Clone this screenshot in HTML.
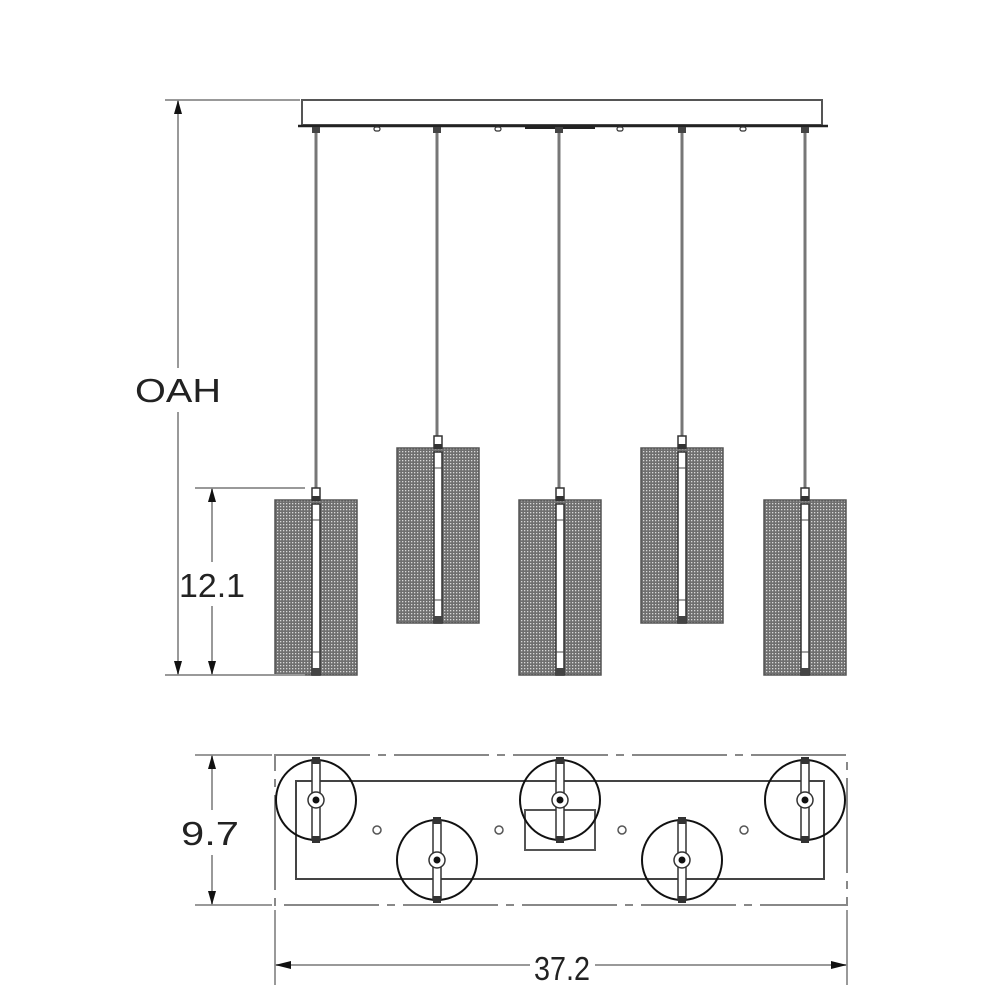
<!DOCTYPE html>
<html><head><meta charset="utf-8"><style>
html,body{margin:0;padding:0;background:#fff;width:1000px;height:1000px;overflow:hidden}
svg{display:block}
text{font-family:"Liberation Sans","DejaVu Sans",sans-serif;fill:#222}
</style></head><body>
<svg width="1000" height="1000" viewBox="0 0 1000 1000" xmlns="http://www.w3.org/2000/svg">
<defs>
<pattern id="mesh" width="3" height="3" patternUnits="userSpaceOnUse">
<rect width="3" height="3" fill="#6f6f6f"/>
<rect x="0" y="0" width="1.3" height="1.3" fill="#d8d8d8"/>
</pattern>
<g id="shade">
<rect x="-41" y="0" width="82" height="175" fill="url(#mesh)" stroke="#555" stroke-width="1.5"/>
<rect x="-4" y="4" width="8" height="171" fill="#fff" stroke="#333" stroke-width="1.5"/>
<line x1="-4" y1="20" x2="4" y2="20" stroke="#444"/>
<line x1="-4" y1="152" x2="4" y2="152" stroke="#444"/>
<rect x="-4" y="-12" width="8" height="12" fill="#fff" stroke="#333" stroke-width="1.5"/>
<rect x="-4" y="-4" width="8" height="5" fill="#333"/>
<rect x="-4" y="168" width="8" height="7" fill="#444"/>
</g>
<g id="plan">
<circle r="40" fill="none" stroke="#111" stroke-width="2"/>
<rect x="-4" y="-40" width="8" height="80" fill="#fff" stroke="#333" stroke-width="1.5"/>
<circle r="8" fill="#fff" stroke="#333" stroke-width="1.5"/>
<circle r="3.5" fill="#111"/>
<rect x="-4" y="-43" width="8" height="7" fill="#333"/>
<rect x="-4" y="36" width="8" height="7" fill="#333"/>
</g>
</defs>

<rect x="302" y="100" width="520" height="25" fill="#fff" stroke="#555" stroke-width="2"/>
<line x1="298" y1="126" x2="828" y2="126" stroke="#222" stroke-width="2.5"/>
<line x1="525" y1="128" x2="595" y2="128" stroke="#222" stroke-width="2"/>
<g fill="#fff" stroke="#333" stroke-width="1.2">
<rect x="374" y="127" width="6" height="4" rx="2"/>
<rect x="495" y="127" width="6" height="4" rx="2"/>
<rect x="617" y="127" width="6" height="4" rx="2"/>
<rect x="740" y="127" width="6" height="4" rx="2"/>
</g>
<g stroke="#777" stroke-width="3">
<line x1="316" y1="128" x2="316" y2="490"/>
<line x1="437" y1="128" x2="437" y2="438"/>
<line x1="559" y1="128" x2="559" y2="490"/>
<line x1="682" y1="128" x2="682" y2="438"/>
<line x1="805" y1="128" x2="805" y2="490"/>
</g>
<g fill="#444">
<rect x="312" y="127" width="8" height="6"/><rect x="433" y="127" width="8" height="6"/>
<rect x="555" y="127" width="8" height="6"/><rect x="678" y="127" width="8" height="6"/>
<rect x="801" y="127" width="8" height="6"/>
</g>
<use href="#shade" x="316" y="500"/>
<use href="#shade" x="438" y="448"/>
<use href="#shade" x="560" y="500"/>
<use href="#shade" x="682" y="448"/>
<use href="#shade" x="805" y="500"/>

<g stroke="#999" stroke-width="2" fill="none">
<line x1="165" y1="100" x2="300" y2="100"/>
<line x1="178" y1="100" x2="178" y2="368"/>
<line x1="178" y1="412" x2="178" y2="675"/>
<line x1="165" y1="675" x2="305" y2="675"/>
<line x1="195" y1="488" x2="305" y2="488"/>
<line x1="212" y1="488" x2="212" y2="562"/>
<line x1="212" y1="606" x2="212" y2="675"/>
</g>
<g fill="#111">
<polygon points="178,100 174,114 182,114"/>
<polygon points="178,675 174,661 182,661"/>
<polygon points="212,488 208,502 216,502"/>
<polygon points="212,675 208,661 216,661"/>
</g>
<text x="178" y="402" font-size="33" text-anchor="middle" textLength="86" lengthAdjust="spacingAndGlyphs">OAH</text>
<text x="212" y="597" font-size="33" text-anchor="middle" textLength="66" lengthAdjust="spacingAndGlyphs">12.1</text>

<rect x="275" y="755" width="572" height="150" fill="none" stroke="#888" stroke-width="2" stroke-dasharray="95,8,8,8"/>
<rect x="296" y="781" width="528" height="98" fill="none" stroke="#444" stroke-width="2"/>
<rect x="525" y="810" width="70" height="40" fill="none" stroke="#555" stroke-width="2"/>
<g fill="#fff" stroke="#555" stroke-width="1.5">
<circle cx="377" cy="830" r="4"/><circle cx="499" cy="830" r="4"/>
<circle cx="622" cy="830" r="4"/><circle cx="744" cy="830" r="4"/>
</g>
<use href="#plan" x="316" y="800"/>
<use href="#plan" x="437" y="860"/>
<use href="#plan" x="560" y="800"/>
<use href="#plan" x="682" y="860"/>
<use href="#plan" x="805" y="800"/>

<g stroke="#999" stroke-width="2" fill="none">
<line x1="195" y1="755" x2="272" y2="755"/>
<line x1="195" y1="905" x2="272" y2="905"/>
<line x1="212" y1="755" x2="212" y2="810"/>
<line x1="212" y1="855" x2="212" y2="905"/>
<line x1="275" y1="910" x2="275" y2="985"/>
<line x1="847" y1="910" x2="847" y2="985"/>
<line x1="275" y1="965" x2="530" y2="965"/>
<line x1="595" y1="965" x2="847" y2="965"/>
</g>
<g fill="#111">
<polygon points="212,755 208,769 216,769"/>
<polygon points="212,905 208,891 216,891"/>
<polygon points="275,965 291,961 291,969"/>
<polygon points="847,965 831,961 831,969"/>
</g>
<text x="210" y="845" font-size="33" text-anchor="middle" textLength="58" lengthAdjust="spacingAndGlyphs">9.7</text>
<text x="562" y="980" font-size="33" text-anchor="middle" textLength="56" lengthAdjust="spacingAndGlyphs">37.2</text>
</svg>
</body></html>
